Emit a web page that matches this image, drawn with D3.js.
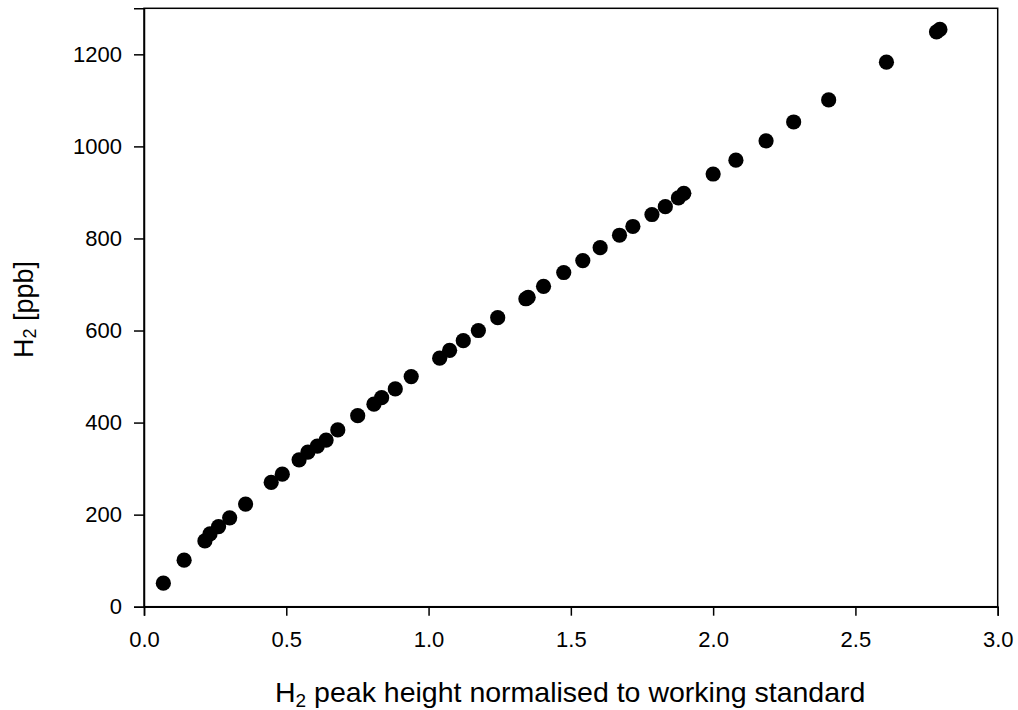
<!DOCTYPE html>
<html><head><meta charset="utf-8">
<script src="https://d3js.org/d3.v7.min.js"></script>
<style>
html,body{margin:0;padding:0;background:#fff;}
svg{display:block;font-family:"Liberation Sans",Arial,sans-serif;}
</style></head>
<body><svg id="c" width="1018" height="710"></svg>
<script>
const xValues = [0.068,0.141,0.214,0.232,0.262,0.301,0.357,0.447,0.486,0.545,0.576,0.609,0.640,0.681,0.751,0.808,0.835,0.883,0.939,1.039,1.074,1.122,1.175,1.243,1.342,1.350,1.404,1.475,1.542,1.603,1.671,1.718,1.785,1.832,1.878,1.897,2.000,2.080,2.186,2.283,2.406,2.609,2.785,2.797];
const yValues = [51,101,143,158,174,193,223,270,288,319,336,349,362,384,415,440,454,473,500,540,557,578,600,628,669,672,696,726,752,780,807,826,852,869,888,898,940,970,1012,1053,1101,1183,1249,1254];
const xTicks = [0,0.5,1.0,1.5,2.0,2.5,3.0];
const yTicks = [0,200,400,600,800,1000,1200];

const svg = d3.select("#c");
const L=144, R=997.7, T=8.3, B=606.7;
const x = d3.scaleLinear().domain([0,3]).range([L,R]);
const y = d3.scaleLinear().domain([0,1300]).range([B,T]);

// frame
svg.append("rect").attr("x",L).attr("y",T).attr("width",R-L).attr("height",B-T)
  .attr("fill","none").attr("stroke","#000").attr("stroke-width",1.5);

const xa = svg.append("g").attr("transform",`translate(0,${B})`)
  .call(d3.axisBottom(x).tickValues(xTicks).tickFormat(d3.format(".1f")).tickSize(9).tickPadding(16));
const ya = svg.append("g").attr("transform",`translate(${L},0)`)
  .call(d3.axisLeft(y).tickValues(yTicks).tickFormat(d3.format("d")).tickSize(10).tickPadding(12));
[xa,ya].forEach(a=>{
  a.select(".domain").attr("stroke","#000").attr("stroke-width",1.5);
  a.selectAll(".tick line").attr("stroke","#000").attr("stroke-width",1.5);
  a.selectAll(".tick text").attr("fill","#000").style("font-size","22px").style("font-family","'Liberation Sans',Arial,sans-serif");
});

svg.append("g").selectAll("circle").data(xValues.map((v,i)=>[v,yValues[i]])).join("circle")
  .attr("cx",d=>x(d[0])).attr("cy",d=>y(d[1])).attr("r",7.6).attr("fill","#000");

// x title
const xt = svg.append("text").attr("x",275).attr("y",701.5).style("font-size","28.5px").attr("fill","#000");
xt.append("tspan").text("H");
xt.append("tspan").text("2").style("font-size","19px").attr("dy",5);
xt.append("tspan").text(" peak height normalised to working standard").attr("dy",-5);

// y title
const yt = svg.append("text").attr("transform","translate(33,358) rotate(-90)").style("font-size","27px").attr("fill","#000");
yt.append("tspan").text("H");
yt.append("tspan").text("2").style("font-size","18px").attr("dy",3);
yt.append("tspan").text(" [ppb]").attr("dy",-3);
</script></body></html>
